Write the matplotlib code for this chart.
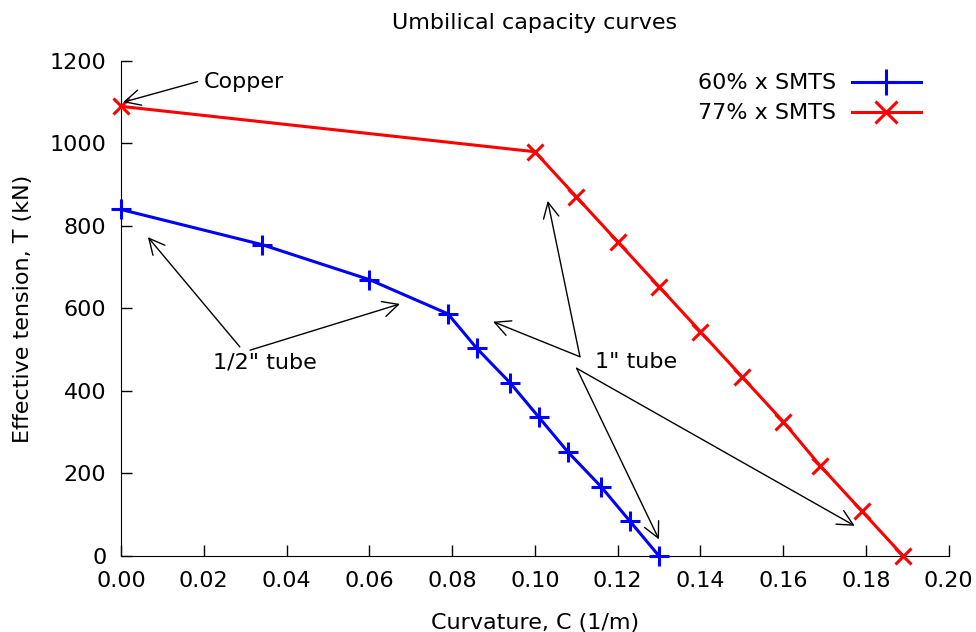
import matplotlib
matplotlib.use("Agg")
import matplotlib.pyplot as plt

# 60% x SMTS (blue, +)
c60 = [0.0, 0.034, 0.060, 0.079, 0.086, 0.094, 0.101, 0.108, 0.116, 0.123, 0.130]
t60 = [840, 755, 670, 587, 503, 420, 336, 252, 168, 84, 0]
# 77% x SMTS (red, x)
c77 = [0.0, 0.100, 0.110, 0.120, 0.130, 0.140, 0.150, 0.160, 0.169, 0.179, 0.189]
t77 = [1090, 980, 871, 762, 653, 544, 435, 326, 218, 109, 0]

plt.rcParams["font.family"] = ["DejaVu Sans"]
plt.rcParams["font.size"] = 16

fig = plt.figure(figsize=(9.76, 6.32), dpi=100)
ax = fig.add_axes([0.124, 0.1203, 0.848, 0.7832])

ax.plot(c60, t60, color="blue", lw=2.2, marker="+", ms=14, mew=2.2,
        label="60% x SMTS", clip_on=False, zorder=3)
ax.plot(c77, t77, color="red", lw=2.2, marker="x", ms=12, mew=2.2,
        label="77% x SMTS", clip_on=False, zorder=3)

arrow = dict(arrowstyle="->", color="black", lw=1.0, mutation_scale=28,
             shrinkA=0, shrinkB=0)

ax.annotate("", xy=(0.0005, 1100), xytext=(0.0185, 1150), arrowprops=arrow)
ax.text(0.020, 1150, "Copper", ha="left", va="center")

ax.annotate("", xy=(0.0065, 773), xytext=(0.0287, 507), arrowprops=arrow)
ax.annotate("", xy=(0.0674, 611), xytext=(0.0312, 499), arrowprops=arrow)
ax.text(0.0348, 468, '1/2" tube', ha="center", va="center")

ax.annotate("", xy=(0.1031, 861), xytext=(0.1109, 483), arrowprops=arrow)
ax.annotate("", xy=(0.0899, 568), xytext=(0.1109, 483), arrowprops=arrow)
ax.annotate("", xy=(0.130, 40), xytext=(0.1101, 455), arrowprops=arrow)
ax.annotate("", xy=(0.1773, 73), xytext=(0.1101, 455), arrowprops=arrow)
ax.text(0.1145, 470, '1" tube', ha="left", va="center")

ax.set_xlim(0, 0.20)
ax.set_ylim(0, 1200)
ax.set_xticks([0.0, 0.02, 0.04, 0.06, 0.08, 0.10, 0.12, 0.14, 0.16, 0.18, 0.20])
ax.set_xticklabels(["%.2f" % v for v in ax.get_xticks()])
ax.set_yticks(range(0, 1201, 200))
ax.tick_params(direction="in", length=8, width=1, pad=10.5)
ax.spines["top"].set_visible(False)
ax.spines["right"].set_visible(False)

ax.set_title("Umbilical capacity curves", fontsize=16, pad=23)
ax.set_xlabel("Curvature, C (1/m)", labelpad=16)
ax.set_ylabel("Effective tension, T (kN)", labelpad=12)

ax.legend(loc="upper right", frameon=False, markerfirst=False,
          handlelength=3.1, handletextpad=0.7, borderaxespad=0, borderpad=0,
          labelspacing=0.45, markerscale=1.3, bbox_to_anchor=(0.966, 0.975))

fig.savefig("out.png", dpi=100)
